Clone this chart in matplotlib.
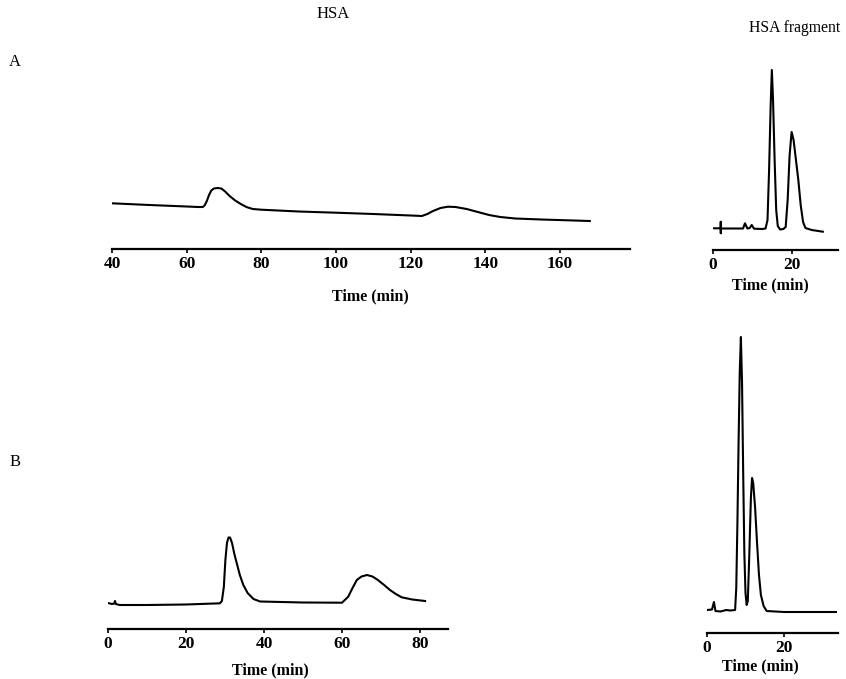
import matplotlib
matplotlib.use("Agg")
import matplotlib.pyplot as plt

plt.rcParams['font.family'] = ['Liberation Serif', 'DejaVu Serif']

# ---------------- data (signal in arbitrary detector units) ----------------
a_hsa_time = [40, 50, 60, 63, 64.3, 64.8, 65.4, 66, 66.6, 67.3, 68.3, 69.3, 70.3,
              71.5, 73, 74.5, 76, 77.7, 80, 90, 100, 110, 120, 123, 124.5, 126,
              128, 130, 132, 135, 138, 141, 144, 148, 155, 162, 168]
a_hsa_signal = [45.7, 44, 42.5, 42, 42, 43.5, 48, 54, 58.5, 60.5, 61, 60.5, 57.5,
                53, 48.5, 45, 42, 40, 39.3, 37.5, 36.3, 35, 33.5, 33, 35, 38,
                41, 42.3, 42, 40, 37, 34, 32, 30.5, 29.5, 28.7, 28]

a_frag_time = [0, 1.5, 1.95, 1.96, 1.97, 2.0, 2.4, 5, 7.6, 8.1, 8.7, 9.3, 9.8, 10.4,
               12.5, 13.3, 13.8, 14.2, 14.6, 14.9, 15.2, 15.6, 16.0, 16.4, 17.0,
               17.8, 18.4, 18.9, 19.4, 19.9, 20.4, 21.0, 21.6, 22.2, 22.8, 23.4,
               25, 27.8]
a_frag_signal = [21.7, 21.7, 21.7, 28.3, 16.7, 21.7, 21.5, 21.5, 21.5, 26.7, 21.5, 22, 25, 21.3,
                 21, 21.5, 30, 80, 145, 180, 150, 90, 40, 24, 20.5,
                 21, 23, 50, 95, 118, 110, 90, 70, 45, 28, 22,
                 20, 18.3]

b_hsa_time = [-0.3, 1.0, 1.6, 1.8, 2.0, 3, 10, 20, 28.7, 29.2, 29.7, 30.1, 30.5,
              30.9, 31.3, 31.8, 32.4, 33.0, 33.8, 34.7, 35.8, 37.3, 39, 50, 60,
              61.6, 62.7, 63.8, 65, 66.4, 67.8, 69.2, 70.8, 72.3, 73.8, 75.3, 78, 81.3]
b_hsa_signal = [26.3, 25, 25.5, 28, 25, 24, 24, 24.5, 25.7, 28, 42, 69, 86,
                91.5, 91.5, 86, 75, 66, 54, 44, 36, 30, 27.5, 26.5, 26.3,
                32.3, 41, 49, 52.5, 54, 52.5, 49, 44, 39, 35, 31.7, 29.5, 28]

b_frag_time = [0, 1.3, 1.8, 2.2, 3.5, 5, 6, 7.3, 7.6, 7.9, 8.2, 8.5, 8.8, 9.1, 9.4,
               9.7, 10.0, 10.3, 10.6, 11.0, 11.4, 11.7, 12.0, 12.5, 13.0, 13.5,
               14.0, 14.7, 15.5, 20, 33.5]
b_frag_signal = [23, 23.5, 31, 22, 21.5, 23, 22.5, 23, 45, 110, 190, 260, 296, 250, 160,
                 80, 40, 28, 32, 80, 135, 155, 150, 125, 90, 58,
                 38, 27, 22, 21, 21]

top_left_ticks = [40, 60, 80, 100, 120, 140, 160]
top_right_ticks = [0, 20]
bottom_left_ticks = [0, 20, 40, 60, 80]
bottom_right_ticks = [0, 20]

W, H = 846, 679
fig = plt.figure(figsize=(W / 100, H / 100), dpi=100)


def make_axes(x0, x1, y_bottom, y_top):
    return fig.add_axes([x0 / W, 1 - y_bottom / H, (x1 - x0) / W, (y_bottom - y_top) / H])


def style(ax, xlim, ylim, ticks):
    ax.set_xlim(*xlim)
    ax.set_ylim(*ylim)
    for s in ['top', 'right', 'left']:
        ax.spines[s].set_visible(False)
    ax.spines['bottom'].set_linewidth(1.6)
    ax.set_yticks([])
    ax.set_xticks(ticks)
    ax.set_xticklabels([str(t) for t in ticks], fontsize=12.5, fontweight='bold')
    ax.tick_params(axis='x', direction='out', length=3, width=1.2, pad=2)
    ax.patch.set_alpha(0)


lw = 1.5
ax1 = make_axes(112, 630, 249, 60)
ax1.plot(a_hsa_time, a_hsa_signal, color='black', lw=lw)
style(ax1, (40, 40 + 518 / 3.733), (0, 189), top_left_ticks)

ax2 = make_axes(713, 838, 250, 60)
ax2.plot(a_frag_time, a_frag_signal, color='black', lw=lw)
style(ax2, (0, 125 / 3.95), (0, 190), top_right_ticks)

ax3 = make_axes(108, 448, 629, 330)
ax3.plot(b_hsa_time, b_hsa_signal, color='black', lw=lw)
style(ax3, (0, 340 / 3.9), (0, 299), bottom_left_ticks)

ax4 = make_axes(707, 838, 633, 330)
ax4.plot(b_frag_time, b_frag_signal, color='black', lw=lw)
style(ax4, (0, 131 / 3.85), (0, 303), bottom_right_ticks)


def ftext(x, y, s, **kw):
    fig.text(x / W, 1 - y / H, s, ha='center', va='center', **kw)


ftext(333, 14, 'HSA', fontsize=12)
ftext(795, 28, 'HSA fragment', fontsize=11.3)
ftext(15, 62, 'A', fontsize=12)
ftext(15, 462, 'B', fontsize=12)
ftext(370, 296, 'Time (min)', fontsize=11.5, fontweight='bold')
ftext(770, 285, 'Time (min)', fontsize=11.5, fontweight='bold')
ftext(270, 670, 'Time (min)', fontsize=11.5, fontweight='bold')
ftext(760, 666, 'Time (min)', fontsize=11.5, fontweight='bold')

fig.savefig('out.png', dpi=100, facecolor='white')
